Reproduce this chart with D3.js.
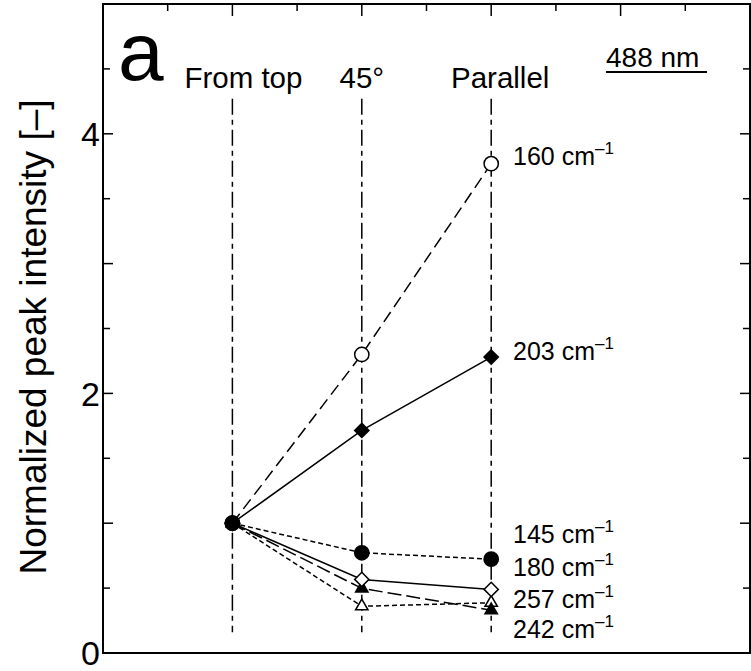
<!DOCTYPE html>
<html><head><meta charset="utf-8">
<script src="https://cdn.jsdelivr.net/npm/d3@7"></script>
<style>body{margin:0;background:#fff}svg{display:block}text{font-family:"Liberation Sans",Arial,sans-serif;fill:#000}</style>
</head><body><svg id="c" width="751" height="671"></svg>
<script>
// ---- data ----
const categories = ["From top", "45°", "Parallel"];
const categoryPos = [1, 2, 3];
const seriesNames = ["160", "203", "145", "180", "257", "242"];
const s160 = [1.0, 2.30, 3.77];
const s203 = [1.0, 1.715, 2.28];
const s145 = [1.0, 0.772, 0.723];
const s180 = [1.0, 0.567, 0.49];
const s257 = [1.0, 0.36, 0.387];
const s242 = [1.0, 0.498, 0.33];
const labelValues = [3.76, 2.26, 0.846, 0.592, 0.346, 0.115];
const yTickValues = [0, 2, 4];
const panelLabel = "a";
const wavelengthLabel = "488 nm";
const yTitle = "Normalized peak intensity [–]";

// ---- layout ----
const svg = d3.select("#c");
const L = 103, R = 750, T = 4, B = 653;
const x = d3.scaleLinear().domain([0, 5]).range([L, R]);
const y = d3.scaleLinear().domain([0, 5]).range([B, T]);

// frame
svg.append("rect").attr("x", L).attr("y", T).attr("width", R - L).attr("height", B - T)
  .attr("fill", "none").attr("stroke", "#000").attr("stroke-width", 2);

// y ticks (left & right)
const yMinor = d3.range(0.5, 5, 0.5);
const yt = svg.append("g");
yMinor.forEach(v => {
  const major = Math.abs(v - Math.round(v)) < 1e-6;
  const len = major ? 10 : 7;
  yt.append("line").attr("x1", L).attr("x2", L + len).attr("y1", y(v)).attr("y2", y(v)).attr("stroke", "#000").attr("stroke-width", 1.5);
  yt.append("line").attr("x1", R).attr("x2", R - len).attr("y1", y(v)).attr("y2", y(v)).attr("stroke", "#000").attr("stroke-width", 1.5);
});
// x ticks on top
d3.range(0.5, 5, 0.5).forEach(v => {
  const major = Math.abs(v - Math.round(v)) < 1e-6;
  yt.append("line").attr("x1", x(v)).attr("x2", x(v)).attr("y1", T).attr("y2", T + (major ? 12 : 7)).attr("stroke", "#000").attr("stroke-width", 1.5);
});
// y tick labels
yTickValues.forEach(v => {
  svg.append("text").attr("x", L - 3).attr("y", y(v)).attr("dy", "0.36em")
    .attr("text-anchor", "end").attr("font-size", 34).text(v);
});
// y title
svg.append("text").attr("transform", `translate(46,${337}) rotate(-90)`)
  .attr("text-anchor", "middle").attr("font-size", 37).text(yTitle);

// vertical reference lines
categoryPos.forEach(p => {
  svg.append("line").attr("x1", x(p)).attr("x2", x(p)).attr("y1", y(4.27)).attr("y2", y(0.16))
    .attr("stroke", "#000").attr("stroke-width", 1.5).attr("stroke-dasharray", "16,5,5,5");
});
// header labels
const hdrOffset = [11, 0, 9];
categories.forEach((c, i) => {
  svg.append("text").attr("x", x(categoryPos[i]) + hdrOffset[i]).attr("y", 88)
    .attr("text-anchor", "middle").attr("font-size", 29.5).text(c);
});
svg.append("text").attr("x", 118).attr("y", 80).attr("font-size", 82).text(panelLabel);
svg.append("text").attr("x", 606).attr("y", 67).attr("font-size", 28).text(wavelengthLabel);
svg.append("line").attr("x1", 606).attr("x2", 707).attr("y1", 72).attr("y2", 72).attr("stroke", "#000").attr("stroke-width", 2);

// series
const series = [
  {name: seriesNames[0], v: s160, dash: "12,6", marker: "circle", fill: "#fff"},
  {name: seriesNames[1], v: s203, dash: null, marker: "diamond", fill: "#000"},
  {name: seriesNames[4], v: s257, dash: "5,3", marker: "triangle", fill: "#fff"},
  {name: seriesNames[5], v: s242, dash: "14,5", marker: "triangle", fill: "#000"},
  {name: seriesNames[3], v: s180, dash: null, marker: "diamond", fill: "#fff"},
  {name: seriesNames[2], v: s145, dash: "5,3", marker: "circle", fill: "#000"},
];
const line = d3.line().x((d, i) => x(categoryPos[i])).y(d => y(d));
const symType = {circle: d3.symbolCircle, diamond: d3.symbolDiamond2, triangle: d3.symbolTriangle2};
const symSize = {circle: 160, diamond: 130, triangle: 110};
series.forEach(s => {
  svg.append("path").datum(s.v).attr("d", line).attr("fill", "none").attr("stroke", "#000")
    .attr("stroke-width", 1.5).attr("stroke-dasharray", s.dash);
});
series.forEach(s => {
  s.v.forEach((v, i) => {
    svg.append("path").attr("d", d3.symbol().type(symType[s.marker]).size(symSize[s.marker])())
      .attr("transform", `translate(${x(categoryPos[i])},${y(v)})`)
      .attr("fill", s.fill).attr("stroke", "#000").attr("stroke-width", 1.5);
  });
});

// right labels
const labelOrder = ["160", "203", "145", "180", "257", "242"];
labelOrder.forEach((n, i) => {
  const t = svg.append("text").attr("x", 513).attr("y", y(labelValues[i])).attr("font-size", 25);
  t.append("tspan").text(n + " cm");
  t.append("tspan").attr("font-size", 17).attr("dy", -11).text("–1");
});
</script></body></html>
